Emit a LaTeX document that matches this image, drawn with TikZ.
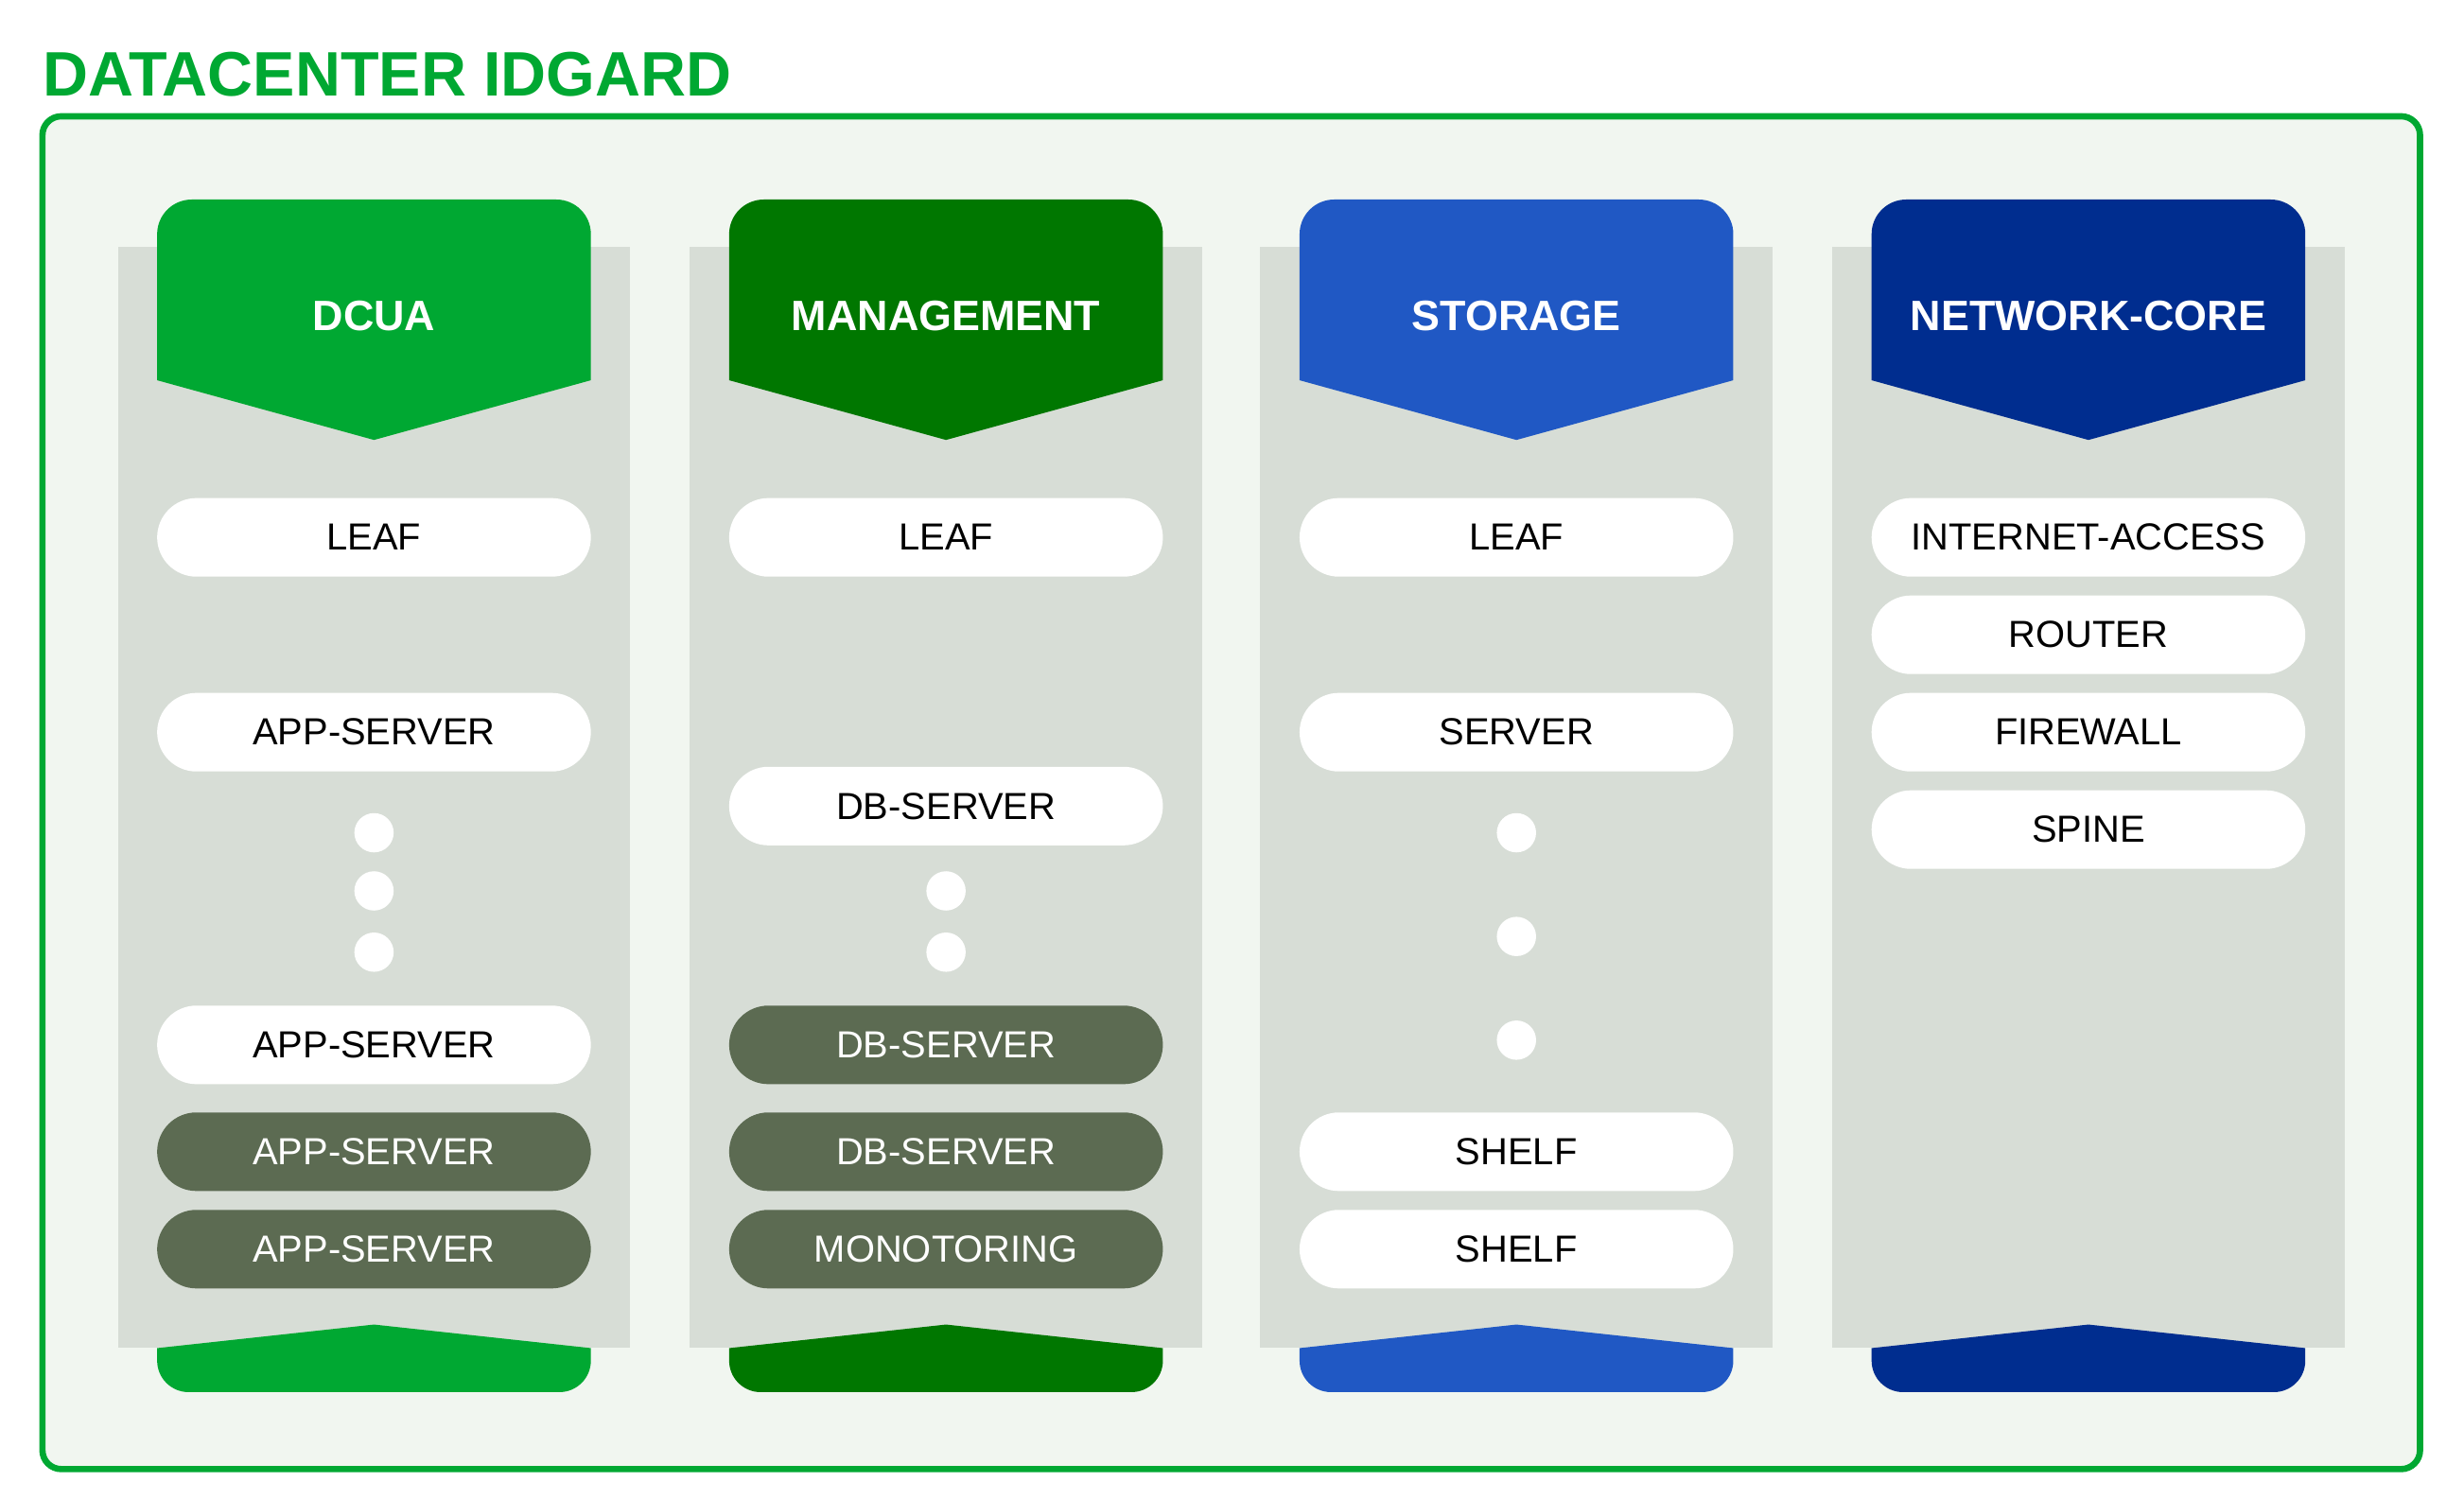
\documentclass[tikz,border=0pt]{standalone}
\usepackage{fontspec}
\setmainfont{Liberation Sans}
\begin{document}
\definecolor{colA}{HTML}{00A832}
\definecolor{colB}{HTML}{007700}
\definecolor{colC}{HTML}{2058C4}
\definecolor{colD}{HTML}{002D8F}
\definecolor{pan}{HTML}{D7DDD6}
\definecolor{bgf}{HTML}{F1F6F0}
\definecolor{dk}{HTML}{5C6B52}
\begin{tikzpicture}[x=1pt,y=-1pt,
  pill/.style={draw=none,fill=white,rounded corners=25pt,minimum width=276pt,minimum height=50pt,inner sep=0pt,font=\fontsize{24}{24}\selectfont},
  dpill/.style={pill,fill=dk,text=white},
  dot/.style={circle,fill=white,minimum size=25pt,inner sep=0pt},
  head/.style={text=white,font=\bfseries\fontsize{27}{27}\selectfont}]
\useasboundingbox (0,0) rectangle (1568,953.5);
\node[anchor=base west,text=colA,font=\bfseries\fontsize{40}{40}\selectfont,inner sep=0pt] (title) at (27,61) {DATACENTER IDGARD};
\draw[colA,line width=4pt,fill=bgf,rounded corners=12pt] (27,74) rectangle (1540,935);
\foreach \o/\c in {0/colA,364/colB,727/colC,1091/colD}{
  \begin{scope}[xshift=\o pt]
  \fill[pan] (75,157) rectangle (401,858);
  \fill[\c,rounded corners=22pt] (100,242) -- (100,127) -- (376,127) -- (376,242) [sharp corners]-- (376,242) -- (238,280) -- (100,242) -- cycle;
  \fill[\c] (100,858) -- (238,843) -- (376,858) [rounded corners=20pt]-- (376,886) -- (100,886) [sharp corners]-- (100,858) -- cycle;
  \end{scope}}
\node[head] (h1) at (238,201) {DCUA};
\node[head] (h2) at (602,201) {MANAGEMENT};
\node[head] (h3) at (965,201) {STORAGE};
\node[head] (h4) at (1329,201) {NETWORK-CORE};
% DCUA
\node[pill] (a1) at (238,342) {LEAF};
\node[pill] (a2) at (238,466) {APP-SERVER};
\node[dot] (ad1) at (238,530) {};
\node[dot] (ad2) at (238,567) {};
\node[dot] (ad3) at (238,606) {};
\node[pill] (a3) at (238,665) {APP-SERVER};
\node[dpill] (a4) at (238,733) {APP-SERVER};
\node[dpill] (a5) at (238,795) {APP-SERVER};
% MANAGEMENT
\node[pill] (m1) at (602,342) {LEAF};
\node[pill] (m2) at (602,513) {DB-SERVER};
\node[dot] (md1) at (602,567) {};
\node[dot] (md2) at (602,606) {};
\node[dpill] (m3) at (602,665) {DB-SERVER};
\node[dpill] (m4) at (602,733) {DB-SERVER};
\node[dpill] (m5) at (602,795) {MONOTORING};
% STORAGE
\node[pill] (s1) at (965,342) {LEAF};
\node[pill] (s2) at (965,466) {SERVER};
\node[dot] (sd1) at (965,530) {};
\node[dot] (sd2) at (965,596) {};
\node[dot] (sd3) at (965,662) {};
\node[pill] (s3) at (965,733) {SHELF};
\node[pill] (s4) at (965,795) {SHELF};
% NETWORK
\node[pill] (n1) at (1329,342) {INTERNET-ACCESS};
\node[pill] (n2) at (1329,404) {ROUTER};
\node[pill] (n3) at (1329,466) {FIREWALL};
\node[pill] (n4) at (1329,528) {SPINE};
\end{tikzpicture}
\end{document}
